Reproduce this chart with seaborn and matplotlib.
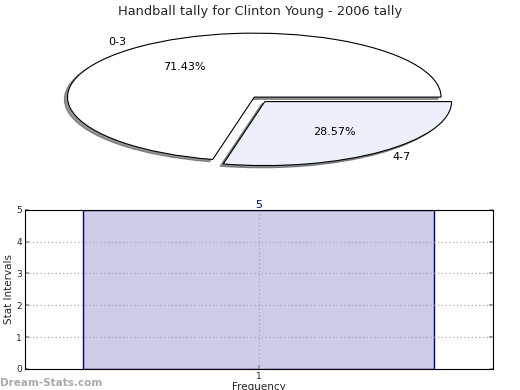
import matplotlib
matplotlib.use("Agg")
import matplotlib.pyplot as plt
import seaborn as sns
import pandas as pd

# Data
pie_labels = ["0-3", "4-7"]
pie_values = [5, 2]
pie_colors = ["#FFFFFF", "#EBF0FC"]
bar_categories = ["1"]
bar_values = [5]
title = "Handball tally for Clinton Young - 2006 tally"

sns.set_theme(style="white")
plt.rcParams['font.family'] = ['DejaVu Sans']

fig = plt.figure(figsize=(5.2, 3.9), dpi=100)

# Pie
axp = fig.add_axes([0.04, 0.546, 0.898, 0.41])
wedges, texts, autotexts = axp.pie(
    pie_values, labels=pie_labels, colors=pie_colors, explode=[0, 0.09],
    autopct="%.2f%%", shadow={"ox": -0.012, "oy": -0.025, "alpha": 0.6},
    startangle=0, labeldistance=1.1, pctdistance=0.6,
    wedgeprops=dict(edgecolor="black", linewidth=0.8),
    textprops=dict(fontsize=8, color="black"))
axp.set_aspect("auto")
axp.set_xlim(-1.25, 1.25)
axp.set_ylim(-1.25, 1.25)
fig.text(0.5, 0.988, title, ha="center", va="top", fontsize=9.4)

# Bar
axb = fig.add_axes([0.048, 0.054, 0.9, 0.408])
df = pd.DataFrame({"cat": bar_categories, "val": bar_values})
sns.barplot(data=df, x="cat", y="val", ax=axb, color="#CCCCE6", width=0.75,
            edgecolor="#000080", linewidth=1, saturation=1)
axb.set_xlim(-0.5, 0.5)
axb.set_ylim(0, 5)
axb.set_yticks(range(0, 6))
axb.grid(True, axis="both", linestyle=(0, (1, 2)), color="#AAAAAA", linewidth=0.9)
axb.set_axisbelow(False)
for p in axb.patches:
    p.set_zorder(0.5)
for s in axb.spines.values():
    s.set_color("black")
    s.set_linewidth(0.8)
    s.set_zorder(5)
axb.tick_params(axis="both", direction="in", labelsize=6.5, length=3, color="#999999",
                right=True, left=True, bottom=True, pad=2)
for i, v in enumerate(bar_values):
    axb.text(i, v, str(v), ha="center", va="bottom", color="#000080", fontsize=8)
axb.set_xlabel("Frequency", fontsize=7.5, labelpad=1)
axb.set_ylabel("Stat Intervals", fontsize=7.5, labelpad=2)

fig.text(0.0, 0.005, "Dream-Stats.com", fontsize=7.5, color="#AAAAAA", fontweight="bold",
         ha="left", va="bottom")

fig.savefig("out.png", dpi=100)
